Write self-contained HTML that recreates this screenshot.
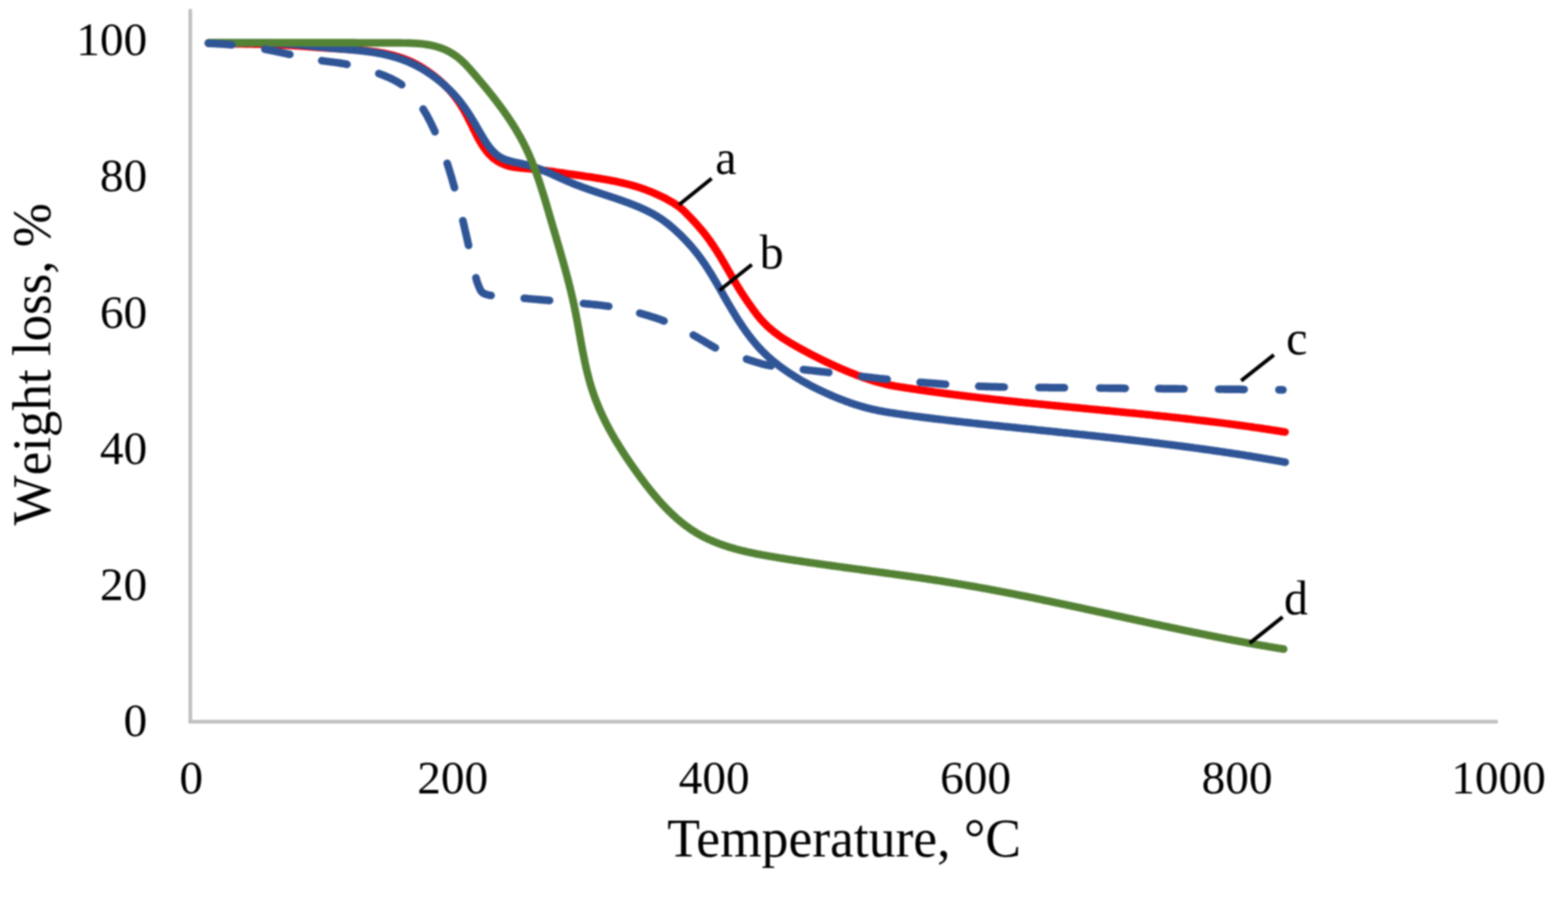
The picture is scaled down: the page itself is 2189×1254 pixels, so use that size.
<!DOCTYPE html>
<html><head><meta charset="utf-8"><title>Weight loss vs Temperature</title>
<style>
html,body{margin:0;padding:0;background:#fff;}
body{width:2189px;height:1254px;overflow:hidden;}
svg{display:block;filter:blur(1.1px);}
text{font-family:"Liberation Serif","Times New Roman",serif;fill:#000;font-kerning:none;}
</style></head><body>
<svg width="2189" height="1254" viewBox="0 0 2189 1254">
<rect width="2189" height="1254" fill="#fff"/>
<g stroke="#bfbfbf" stroke-width="5" fill="none">
<line x1="265.7" y1="12.6" x2="265.7" y2="1010.3"/>
<line x1="263.2" y1="1007.8" x2="2091" y2="1007.8"/>
</g>
<g fill="none" stroke-linecap="round" stroke-linejoin="round" stroke-width="10.7">
<path d="M291.0 60.3L293.0 60.3L295.0 60.4L297.0 60.4L299.0 60.5L301.0 60.5L303.0 60.6L305.0 60.6L307.0 60.7L309.0 60.7L311.0 60.8L313.0 60.8L315.0 60.8L317.0 60.9L319.0 60.9L321.0 60.9L323.0 61.0L325.0 61.0L327.0 61.0L329.0 61.1L331.0 61.1L333.0 61.1L335.0 61.2L337.0 61.2L339.0 61.2L341.0 61.3L343.0 61.3L345.0 61.4L347.0 61.4L349.0 61.4L351.0 61.5L353.0 61.5L355.0 61.6L357.0 61.6L359.0 61.6L361.0 61.7L363.0 61.7L365.0 61.8L367.0 61.8L369.0 61.9L371.0 62.0L373.0 62.0L375.0 62.1L377.0 62.2L379.0 62.2L381.0 62.3L383.0 62.4L385.0 62.4L387.0 62.5L389.0 62.6L391.0 62.7L393.0 62.8L395.0 62.9L397.0 63.0L399.0 63.1L401.0 63.2L403.0 63.3L405.0 63.4L407.0 63.5L409.0 63.7L411.0 63.8L413.0 63.9L415.0 64.0L417.0 64.2L419.0 64.3L421.0 64.5L423.0 64.6L424.9 64.7L426.9 64.9L428.9 65.0L430.9 65.2L432.9 65.3L434.9 65.5L436.9 65.6L438.9 65.8L440.9 65.9L442.9 66.1L444.9 66.2L446.9 66.4L448.9 66.5L450.9 66.6L452.9 66.8L454.9 66.9L456.9 67.1L458.9 67.2L460.9 67.3L462.9 67.5L464.9 67.6L466.9 67.7L468.9 67.8L470.9 68.0L472.8 68.1L474.8 68.2L476.8 68.3L478.8 68.5L480.8 68.6L482.8 68.7L484.8 68.8L486.8 69.0L488.8 69.1L490.8 69.2L492.8 69.4L494.8 69.5L496.8 69.7L498.8 69.8L500.8 70.0L502.8 70.2L504.8 70.3L506.8 70.5L508.8 70.7L510.8 70.9L512.7 71.1L514.7 71.4L516.7 71.6L518.7 71.8L520.7 72.1L522.7 72.3L524.6 72.6L526.6 72.9L528.6 73.2L530.6 73.6L532.6 73.9L534.5 74.2L536.5 74.6L538.4 75.0L540.4 75.4L542.4 75.8L544.3 76.3L546.3 76.7L548.2 77.2L550.1 77.7L552.1 78.3L554.0 78.8L555.9 79.4L557.8 80.0L559.7 80.6L561.6 81.3L563.5 81.9L565.4 82.6L567.2 83.4L569.1 84.1L570.9 84.9L572.8 85.7L574.6 86.5L576.4 87.4L578.2 88.3L580.0 89.2L581.7 90.1L583.5 91.1L585.2 92.0L587.0 93.0L588.7 94.1L590.4 95.1L592.1 96.2L593.8 97.3L595.4 98.4L597.1 99.5L598.7 100.6L600.4 101.8L602.0 103.0L603.6 104.2L605.2 105.4L606.7 106.6L608.3 107.9L609.8 109.1L611.4 110.4L612.9 111.7L614.4 113.1L615.9 114.4L617.4 115.7L618.8 117.1L620.3 118.5L621.7 119.9L623.1 121.3L624.5 122.8L625.9 124.2L627.2 125.7L628.6 127.2L629.9 128.7L631.2 130.2L632.5 131.7L633.7 133.3L635.0 134.9L636.2 136.4L637.4 138.1L638.5 139.7L639.7 141.3L640.8 143.0L641.9 144.6L643.0 146.3L644.1 148.0L645.1 149.7L646.2 151.4L647.2 153.2L648.2 154.9L649.1 156.6L650.1 158.4L651.0 160.2L652.0 161.9L652.9 163.7L653.8 165.5L654.7 167.3L655.6 169.0L656.5 170.8L657.4 172.6L658.3 174.4L659.2 176.2L660.1 178.0L660.9 179.8L661.8 181.6L662.7 183.4L663.6 185.2L664.5 187.0L665.4 188.8L666.3 190.5L667.2 192.3L668.2 194.1L669.2 195.8L670.2 197.6L671.2 199.3L672.2 201.0L673.3 202.7L674.4 204.3L675.5 206.0L676.7 207.6L677.9 209.2L679.1 210.8L680.4 212.4L681.7 213.9L683.0 215.4L684.4 216.8L685.8 218.2L687.3 219.6L688.8 220.9L690.4 222.1L692.0 223.3L693.6 224.4L695.3 225.5L697.1 226.5L698.8 227.4L700.6 228.3L702.5 229.1L704.3 229.9L706.2 230.6L708.1 231.2L710.0 231.8L711.9 232.3L713.9 232.7L715.8 233.1L717.8 233.5L719.8 233.8L721.8 234.0L723.8 234.3L725.8 234.5L727.7 234.7L729.7 234.8L731.7 235.0L733.7 235.2L735.7 235.3L737.7 235.5L739.7 235.7L741.7 235.9L743.7 236.1L745.7 236.3L747.7 236.5L749.7 236.7L751.6 237.0L753.6 237.2L755.6 237.5L757.6 237.7L759.6 238.0L761.6 238.2L763.5 238.5L765.5 238.8L767.5 239.0L769.5 239.3L771.5 239.6L773.5 239.9L775.4 240.2L777.4 240.5L779.4 240.7L781.4 241.0L783.4 241.3L785.3 241.6L787.3 241.9L789.3 242.2L791.3 242.5L793.3 242.8L795.2 243.0L797.2 243.3L799.2 243.6L801.2 243.9L803.2 244.2L805.1 244.4L807.1 244.7L809.1 245.0L811.1 245.3L813.1 245.6L815.0 245.9L817.0 246.2L819.0 246.5L821.0 246.7L823.0 247.0L824.9 247.3L826.9 247.6L828.9 248.0L830.9 248.3L832.8 248.6L834.8 248.9L836.8 249.2L838.8 249.5L840.7 249.9L842.7 250.2L844.7 250.5L846.7 250.9L848.6 251.2L850.6 251.6L852.6 252.0L854.5 252.4L856.5 252.7L858.4 253.1L860.4 253.5L862.4 253.9L864.3 254.4L866.3 254.8L868.2 255.2L870.2 255.7L872.1 256.2L874.1 256.6L876.0 257.1L877.9 257.6L879.9 258.1L881.8 258.7L883.7 259.2L885.6 259.8L887.6 260.3L889.5 260.9L891.4 261.5L893.3 262.1L895.2 262.8L897.1 263.4L899.0 264.1L900.8 264.8L902.7 265.5L904.6 266.2L906.5 266.9L908.3 267.6L910.2 268.4L912.0 269.2L913.9 270.0L915.7 270.8L917.5 271.6L919.3 272.4L921.1 273.3L922.9 274.1L924.7 275.0L926.5 275.9L928.3 276.8L930.1 277.8L931.8 278.7L933.6 279.7L935.3 280.7L937.1 281.7L938.8 282.7L940.5 283.7L942.2 284.8L943.9 285.9L945.5 287.0L947.2 288.2L948.8 289.4L950.3 290.6L951.8 291.9L953.3 293.2L954.8 294.6L956.2 296.0L957.6 297.4L959.0 298.8L960.4 300.3L961.8 301.7L963.2 303.2L964.6 304.6L966.0 306.1L967.3 307.5L968.7 309.0L970.1 310.4L971.4 311.9L972.8 313.4L974.1 314.9L975.4 316.4L976.7 317.9L978.0 319.4L979.3 321.0L980.6 322.5L981.8 324.1L983.1 325.6L984.3 327.2L985.5 328.8L986.7 330.4L987.9 332.0L989.1 333.6L990.3 335.2L991.5 336.9L992.6 338.5L993.7 340.1L994.9 341.8L996.0 343.4L997.1 345.1L998.2 346.8L999.3 348.5L1000.4 350.1L1001.5 351.8L1002.5 353.5L1003.6 355.2L1004.6 356.9L1005.7 358.6L1006.7 360.3L1007.7 362.1L1008.7 363.8L1009.8 365.5L1010.8 367.2L1011.8 369.0L1012.8 370.7L1013.8 372.4L1014.8 374.2L1015.8 375.9L1016.8 377.6L1017.8 379.4L1018.8 381.1L1019.8 382.8L1020.8 384.6L1021.8 386.3L1022.8 388.0L1023.8 389.8L1024.8 391.5L1025.8 393.2L1026.8 394.9L1027.8 396.7L1028.9 398.4L1029.9 400.1L1030.9 401.8L1032.0 403.5L1033.0 405.2L1034.1 406.9L1035.2 408.6L1036.3 410.3L1037.4 411.9L1038.5 413.6L1039.6 415.3L1040.7 416.9L1041.8 418.6L1042.9 420.2L1044.1 421.9L1045.2 423.5L1046.4 425.2L1047.5 426.8L1048.7 428.4L1049.9 430.0L1051.0 431.7L1052.2 433.3L1053.4 434.9L1054.6 436.5L1055.8 438.1L1057.0 439.7L1058.3 441.2L1059.5 442.8L1060.8 444.3L1062.1 445.9L1063.4 447.4L1064.8 448.8L1066.1 450.3L1067.5 451.7L1069.0 453.1L1070.4 454.5L1071.8 455.9L1073.3 457.3L1074.8 458.6L1076.3 459.9L1077.9 461.2L1079.4 462.4L1081.0 463.7L1082.6 464.9L1084.2 466.1L1085.8 467.3L1087.4 468.5L1089.0 469.6L1090.7 470.8L1092.3 471.9L1094.0 473.0L1095.7 474.1L1097.4 475.1L1099.1 476.2L1100.8 477.2L1102.5 478.3L1104.2 479.3L1105.9 480.3L1107.7 481.3L1109.4 482.3L1111.1 483.3L1112.9 484.3L1114.6 485.3L1116.4 486.3L1118.1 487.2L1119.9 488.2L1121.6 489.1L1123.4 490.1L1125.2 491.0L1126.9 492.0L1128.7 492.9L1130.5 493.8L1132.2 494.8L1134.0 495.7L1135.8 496.6L1137.6 497.5L1139.4 498.4L1141.1 499.3L1142.9 500.2L1144.7 501.1L1146.5 502.0L1148.3 502.9L1150.1 503.7L1151.9 504.6L1153.7 505.5L1155.5 506.3L1157.3 507.2L1159.2 508.0L1161.0 508.9L1162.8 509.7L1164.6 510.5L1166.4 511.4L1168.2 512.2L1170.1 513.0L1171.9 513.8L1173.7 514.6L1175.6 515.4L1177.4 516.2L1179.2 517.0L1181.1 517.8L1182.9 518.6L1184.8 519.3L1186.6 520.1L1188.5 520.8L1190.4 521.6L1192.2 522.3L1194.1 523.0L1195.9 523.7L1197.8 524.4L1199.7 525.1L1201.6 525.8L1203.4 526.5L1205.3 527.2L1207.2 527.8L1209.1 528.5L1211.0 529.1L1212.9 529.8L1214.8 530.4L1216.7 531.0L1218.6 531.6L1220.5 532.2L1222.5 532.8L1224.4 533.3L1226.3 533.9L1228.2 534.4L1230.2 534.9L1232.1 535.4L1234.0 535.9L1236.0 536.4L1237.9 536.8L1239.9 537.3L1241.8 537.7L1243.8 538.1L1245.8 538.4L1247.7 538.8L1249.7 539.2L1251.7 539.5L1253.6 539.8L1255.6 540.2L1257.6 540.5L1259.6 540.8L1261.5 541.1L1263.5 541.4L1265.5 541.7L1267.5 542.0L1269.5 542.3L1271.4 542.6L1273.4 542.9L1275.4 543.2L1277.4 543.5L1279.4 543.8L1281.3 544.1L1283.3 544.4L1285.3 544.7L1287.3 545.0L1289.2 545.2L1291.2 545.5L1293.2 545.8L1295.2 546.1L1297.2 546.4L1299.2 546.6L1301.1 546.9L1303.1 547.2L1305.1 547.5L1307.1 547.7L1309.1 548.0L1311.0 548.3L1313.0 548.5L1315.0 548.8L1317.0 549.1L1319.0 549.3L1321.0 549.6L1322.9 549.9L1324.9 550.1L1326.9 550.4L1328.9 550.6L1330.9 550.9L1332.9 551.1L1334.9 551.4L1336.8 551.6L1338.8 551.9L1340.8 552.1L1342.8 552.4L1344.8 552.6L1346.8 552.9L1348.8 553.1L1350.7 553.4L1352.7 553.6L1354.7 553.8L1356.7 554.1L1358.7 554.3L1360.7 554.5L1362.7 554.8L1364.6 555.0L1366.6 555.2L1368.6 555.5L1370.6 555.7L1372.6 555.9L1374.6 556.2L1376.6 556.4L1378.6 556.6L1380.5 556.8L1382.5 557.1L1384.5 557.3L1386.5 557.5L1388.5 557.7L1390.5 558.0L1392.5 558.2L1394.5 558.4L1396.4 558.6L1398.4 558.8L1400.4 559.0L1402.4 559.3L1404.4 559.5L1406.4 559.7L1408.4 559.9L1410.4 560.1L1412.4 560.3L1414.4 560.5L1416.3 560.7L1418.3 560.9L1420.3 561.2L1422.3 561.4L1424.3 561.6L1426.3 561.8L1428.3 562.0L1430.3 562.2L1432.3 562.4L1434.3 562.6L1436.2 562.8L1438.2 563.0L1440.2 563.2L1442.2 563.4L1444.2 563.6L1446.2 563.8L1448.2 564.0L1450.2 564.2L1452.2 564.4L1454.2 564.6L1456.1 564.8L1458.1 565.0L1460.1 565.2L1462.1 565.4L1464.1 565.6L1466.1 565.8L1468.1 566.0L1470.1 566.2L1472.1 566.4L1474.1 566.6L1476.1 566.8L1478.0 566.9L1480.0 567.1L1482.0 567.3L1484.0 567.5L1486.0 567.7L1488.0 567.9L1490.0 568.1L1492.0 568.3L1494.0 568.5L1496.0 568.7L1498.0 568.9L1500.0 569.1L1501.9 569.3L1503.9 569.4L1505.9 569.6L1507.9 569.8L1509.9 570.0L1511.9 570.2L1513.9 570.4L1515.9 570.6L1517.9 570.8L1519.9 571.0L1521.9 571.2L1523.9 571.4L1525.8 571.5L1527.8 571.7L1529.8 571.9L1531.8 572.1L1533.8 572.3L1535.8 572.5L1537.8 572.7L1539.8 572.9L1541.8 573.1L1543.8 573.3L1545.8 573.4L1547.8 573.6L1549.7 573.8L1551.7 574.0L1553.7 574.2L1555.7 574.4L1557.7 574.6L1559.7 574.8L1561.7 575.0L1563.7 575.2L1565.7 575.4L1567.7 575.6L1569.7 575.8L1571.6 576.0L1573.6 576.2L1575.6 576.4L1577.6 576.5L1579.6 576.7L1581.6 576.9L1583.6 577.1L1585.6 577.3L1587.6 577.5L1589.6 577.7L1591.6 577.9L1593.5 578.1L1595.5 578.3L1597.5 578.5L1599.5 578.7L1601.5 578.9L1603.5 579.1L1605.5 579.3L1607.5 579.5L1609.5 579.7L1611.5 580.0L1613.5 580.2L1615.4 580.4L1617.4 580.6L1619.4 580.8L1621.4 581.0L1623.4 581.2L1625.4 581.4L1627.4 581.6L1629.4 581.8L1631.4 582.0L1633.3 582.2L1635.3 582.5L1637.3 582.7L1639.3 582.9L1641.3 583.1L1643.3 583.3L1645.3 583.5L1647.3 583.8L1649.3 584.0L1651.2 584.2L1653.2 584.4L1655.2 584.6L1657.2 584.9L1659.2 585.1L1661.2 585.3L1663.2 585.5L1665.2 585.8L1667.2 586.0L1669.1 586.2L1671.1 586.5L1673.1 586.7L1675.1 586.9L1677.1 587.2L1679.1 587.4L1681.1 587.6L1683.0 587.9L1685.0 588.1L1687.0 588.3L1689.0 588.6L1691.0 588.8L1693.0 589.1L1695.0 589.3L1696.9 589.5L1698.9 589.8L1700.9 590.0L1702.9 590.3L1704.9 590.5L1706.9 590.8L1708.9 591.0L1710.8 591.3L1712.8 591.5L1714.8 591.8L1716.8 592.1L1718.8 592.3L1720.8 592.6L1722.7 592.8L1724.7 593.1L1726.7 593.4L1728.7 593.6L1730.7 593.9L1732.7 594.2L1734.6 594.4L1736.6 594.7L1738.6 595.0L1740.6 595.3L1742.6 595.5L1744.6 595.8L1746.5 596.1L1748.5 596.4L1750.5 596.7L1752.5 597.0L1754.5 597.2L1756.4 597.5L1758.4 597.8L1760.4 598.1L1762.4 598.4L1764.4 598.7L1766.3 599.0L1768.3 599.3L1770.3 599.6L1772.3 599.9L1774.2 600.2L1776.2 600.5L1778.2 600.8L1780.2 601.1L1782.1 601.4L1784.1 601.7L1786.1 602.0L1788.1 602.4L1790.1 602.7L1792.0 603.0L1794.0 603.3" stroke="#ff0000"/>
<path d="M291.0 60.0L293.0 60.0L295.0 60.1L297.0 60.1L299.0 60.1L301.0 60.1L303.0 60.1L305.0 60.1L307.0 60.2L309.0 60.2L311.0 60.2L313.0 60.2L315.0 60.2L317.0 60.1L319.0 60.1L321.0 60.1L323.0 60.1L325.0 60.1L327.0 60.1L329.0 60.1L331.0 60.1L333.0 60.1L335.0 60.0L337.0 60.0L339.0 60.0L341.0 60.0L343.0 60.0L345.0 60.0L347.0 60.0L349.0 60.0L351.0 60.0L353.0 60.0L355.0 60.0L357.0 60.0L359.0 60.0L361.0 60.0L363.0 60.0L365.0 60.0L367.0 60.0L369.0 60.1L371.0 60.1L373.0 60.1L375.0 60.2L377.0 60.2L379.0 60.3L381.0 60.3L383.0 60.4L385.0 60.5L387.0 60.5L389.0 60.6L391.0 60.7L393.0 60.8L395.0 60.9L397.0 61.0L399.0 61.1L401.0 61.3L403.0 61.4L405.0 61.5L407.0 61.7L409.0 61.9L411.0 62.0L413.0 62.2L415.0 62.4L417.0 62.5L418.9 62.7L420.9 62.9L422.9 63.1L424.9 63.3L426.9 63.5L428.9 63.7L430.9 63.9L432.9 64.2L434.9 64.4L436.9 64.6L438.9 64.8L440.8 65.0L442.8 65.2L444.8 65.4L446.8 65.6L448.8 65.8L450.8 66.0L452.8 66.2L454.8 66.4L456.8 66.6L458.8 66.8L460.7 67.0L462.7 67.2L464.7 67.4L466.7 67.5L468.7 67.7L470.7 67.9L472.7 68.0L474.7 68.2L476.7 68.4L478.7 68.5L480.7 68.7L482.7 68.8L484.7 69.0L486.7 69.2L488.7 69.4L490.6 69.5L492.6 69.7L494.6 69.9L496.6 70.1L498.6 70.3L500.6 70.5L502.6 70.7L504.6 70.9L506.6 71.1L508.6 71.4L510.5 71.6L512.5 71.9L514.5 72.2L516.5 72.4L518.5 72.7L520.4 73.0L522.4 73.3L524.4 73.7L526.4 74.0L528.3 74.4L530.3 74.7L532.3 75.1L534.2 75.5L536.2 75.9L538.1 76.4L540.1 76.8L542.0 77.3L544.0 77.8L545.9 78.3L547.8 78.8L549.8 79.3L551.7 79.9L553.6 80.5L555.5 81.1L557.4 81.7L559.3 82.3L561.2 83.0L563.1 83.7L564.9 84.4L566.8 85.1L568.7 85.9L570.5 86.7L572.3 87.5L574.2 88.3L576.0 89.1L577.8 90.0L579.6 90.9L581.4 91.8L583.1 92.7L584.9 93.7L586.6 94.6L588.4 95.6L590.1 96.6L591.8 97.7L593.5 98.7L595.2 99.8L596.9 100.9L598.6 102.0L600.2 103.1L601.9 104.2L603.5 105.4L605.1 106.6L606.7 107.7L608.3 108.9L609.9 110.2L611.5 111.4L613.1 112.6L614.6 113.9L616.2 115.2L617.7 116.5L619.2 117.8L620.7 119.1L622.2 120.4L623.7 121.8L625.1 123.2L626.6 124.5L628.0 125.9L629.4 127.4L630.8 128.8L632.2 130.2L633.6 131.7L634.9 133.2L636.2 134.6L637.6 136.1L638.9 137.7L640.2 139.2L641.4 140.7L642.7 142.3L643.9 143.9L645.1 145.5L646.3 147.1L647.5 148.7L648.7 150.3L649.8 152.0L651.0 153.6L652.1 155.3L653.2 156.9L654.3 158.6L655.4 160.3L656.4 162.0L657.5 163.7L658.5 165.4L659.6 167.1L660.6 168.8L661.7 170.5L662.7 172.2L663.7 173.9L664.7 175.7L665.7 177.4L666.7 179.1L667.7 180.9L668.7 182.6L669.7 184.3L670.7 186.0L671.7 187.8L672.8 189.5L673.8 191.2L674.8 192.9L675.8 194.6L676.9 196.3L678.0 198.0L679.1 199.7L680.2 201.3L681.4 203.0L682.6 204.6L683.8 206.2L685.0 207.7L686.3 209.2L687.7 210.7L689.1 212.2L690.5 213.6L692.0 214.9L693.6 216.2L695.1 217.4L696.8 218.5L698.5 219.6L700.2 220.5L702.0 221.4L703.9 222.2L705.7 223.0L707.6 223.6L709.5 224.2L711.4 224.8L713.4 225.3L715.3 225.8L717.3 226.2L719.2 226.7L721.2 227.1L723.1 227.5L725.1 227.9L727.0 228.3L729.0 228.8L730.9 229.2L732.9 229.7L734.8 230.2L736.8 230.7L738.7 231.3L740.6 231.8L742.5 232.4L744.4 233.0L746.3 233.6L748.2 234.3L750.1 234.9L752.0 235.6L753.9 236.3L755.7 237.0L757.6 237.8L759.4 238.5L761.3 239.3L763.1 240.1L765.0 240.8L766.8 241.6L768.7 242.4L770.5 243.2L772.3 244.1L774.1 244.9L776.0 245.7L777.8 246.5L779.6 247.3L781.4 248.2L783.3 249.0L785.1 249.8L786.9 250.6L788.7 251.4L790.6 252.2L792.4 253.0L794.2 253.8L796.1 254.6L797.9 255.4L799.8 256.2L801.6 256.9L803.5 257.7L805.3 258.4L807.2 259.1L809.1 259.8L811.0 260.5L812.8 261.2L814.7 261.9L816.6 262.6L818.5 263.3L820.4 263.9L822.2 264.6L824.1 265.2L826.0 265.9L827.9 266.5L829.8 267.2L831.7 267.8L833.6 268.5L835.5 269.1L837.4 269.7L839.3 270.4L841.2 271.0L843.1 271.6L845.0 272.2L846.9 272.9L848.8 273.5L850.7 274.1L852.6 274.7L854.5 275.4L856.4 276.0L858.3 276.6L860.2 277.3L862.1 277.9L864.0 278.6L865.9 279.2L867.8 279.9L869.7 280.5L871.5 281.2L873.4 281.9L875.3 282.6L877.2 283.3L879.0 284.0L880.9 284.7L882.8 285.4L884.6 286.2L886.5 286.9L888.3 287.7L890.2 288.4L892.0 289.2L893.9 290.0L895.7 290.8L897.5 291.6L899.3 292.5L901.1 293.3L902.9 294.2L904.7 295.1L906.5 296.0L908.3 296.9L910.1 297.9L911.8 298.8L913.6 299.8L915.3 300.8L917.0 301.8L918.7 302.9L920.4 304.0L922.1 305.1L923.7 306.2L925.4 307.3L927.0 308.5L928.6 309.7L930.2 310.9L931.8 312.1L933.3 313.4L934.9 314.6L936.4 315.9L937.9 317.2L939.5 318.5L941.0 319.8L942.5 321.2L943.9 322.5L945.4 323.9L946.9 325.2L948.3 326.6L949.8 328.0L951.2 329.4L952.6 330.8L954.0 332.2L955.4 333.7L956.8 335.1L958.2 336.6L959.5 338.0L960.9 339.5L962.2 341.0L963.6 342.5L964.9 344.0L966.2 345.5L967.5 347.0L968.8 348.6L970.0 350.1L971.3 351.7L972.5 353.2L973.8 354.8L975.0 356.4L976.2 358.0L977.4 359.6L978.6 361.2L979.7 362.8L980.9 364.5L982.0 366.1L983.2 367.7L984.3 369.4L985.4 371.1L986.5 372.7L987.6 374.4L988.7 376.1L989.7 377.8L990.8 379.5L991.9 381.2L992.9 382.9L994.0 384.6L995.0 386.3L996.0 388.0L997.0 389.7L998.1 391.5L999.1 393.2L1000.1 394.9L1001.1 396.7L1002.1 398.4L1003.1 400.1L1004.1 401.9L1005.1 403.6L1006.1 405.3L1007.1 407.1L1008.1 408.8L1009.1 410.5L1010.0 412.3L1011.0 414.0L1012.0 415.7L1013.0 417.5L1014.0 419.2L1015.0 420.9L1016.0 422.7L1017.0 424.4L1018.0 426.1L1019.1 427.9L1020.1 429.6L1021.1 431.3L1022.1 433.0L1023.1 434.7L1024.2 436.4L1025.2 438.2L1026.3 439.9L1027.3 441.6L1028.4 443.3L1029.4 445.0L1030.5 446.6L1031.6 448.3L1032.7 450.0L1033.8 451.7L1034.9 453.4L1036.0 455.0L1037.1 456.7L1038.2 458.3L1039.4 460.0L1040.5 461.6L1041.7 463.2L1042.9 464.8L1044.1 466.5L1045.3 468.1L1046.5 469.7L1047.7 471.2L1048.9 472.8L1050.2 474.4L1051.4 475.9L1052.7 477.5L1054.0 479.0L1055.3 480.5L1056.6 482.1L1057.9 483.6L1059.2 485.0L1060.6 486.5L1062.0 488.0L1063.3 489.4L1064.7 490.8L1066.2 492.3L1067.6 493.7L1069.0 495.0L1070.5 496.4L1072.0 497.8L1073.4 499.1L1074.9 500.4L1076.5 501.8L1078.0 503.1L1079.5 504.3L1081.1 505.6L1082.6 506.9L1084.2 508.1L1085.8 509.3L1087.3 510.6L1088.9 511.8L1090.5 513.0L1092.2 514.1L1093.8 515.3L1095.4 516.5L1097.1 517.6L1098.7 518.7L1100.4 519.9L1102.0 521.0L1103.7 522.1L1105.4 523.2L1107.1 524.2L1108.8 525.3L1110.5 526.4L1112.2 527.4L1113.9 528.4L1115.6 529.5L1117.3 530.5L1119.0 531.5L1120.8 532.5L1122.5 533.5L1124.3 534.4L1126.0 535.4L1127.8 536.3L1129.5 537.3L1131.3 538.2L1133.1 539.2L1134.9 540.1L1136.7 541.0L1138.4 541.9L1140.2 542.8L1142.0 543.7L1143.8 544.5L1145.6 545.4L1147.4 546.2L1149.2 547.1L1151.1 547.9L1152.9 548.8L1154.7 549.6L1156.5 550.4L1158.4 551.2L1160.2 552.0L1162.0 552.8L1163.9 553.6L1165.7 554.4L1167.6 555.1L1169.4 555.9L1171.3 556.6L1173.1 557.4L1175.0 558.1L1176.9 558.8L1178.7 559.5L1180.6 560.2L1182.5 560.9L1184.4 561.6L1186.3 562.3L1188.1 562.9L1190.0 563.6L1191.9 564.2L1193.8 564.8L1195.7 565.4L1197.7 566.0L1199.6 566.6L1201.5 567.2L1203.4 567.7L1205.3 568.3L1207.3 568.8L1209.2 569.3L1211.1 569.8L1213.1 570.3L1215.0 570.8L1217.0 571.3L1218.9 571.7L1220.9 572.1L1222.8 572.6L1224.8 573.0L1226.7 573.4L1228.7 573.8L1230.7 574.1L1232.6 574.5L1234.6 574.9L1236.6 575.2L1238.5 575.5L1240.5 575.9L1242.5 576.2L1244.5 576.5L1246.4 576.8L1248.4 577.1L1250.4 577.4L1252.4 577.7L1254.4 578.0L1256.3 578.3L1258.3 578.6L1260.3 578.9L1262.3 579.2L1264.3 579.4L1266.2 579.7L1268.2 580.0L1270.2 580.3L1272.2 580.5L1274.2 580.8L1276.1 581.1L1278.1 581.3L1280.1 581.6L1282.1 581.8L1284.1 582.1L1286.1 582.4L1288.1 582.6L1290.0 582.9L1292.0 583.1L1294.0 583.4L1296.0 583.6L1298.0 583.9L1300.0 584.1L1301.9 584.4L1303.9 584.6L1305.9 584.9L1307.9 585.1L1309.9 585.3L1311.9 585.6L1313.9 585.8L1315.8 586.0L1317.8 586.3L1319.8 586.5L1321.8 586.7L1323.8 587.0L1325.8 587.2L1327.8 587.4L1329.8 587.7L1331.7 587.9L1333.7 588.1L1335.7 588.4L1337.7 588.6L1339.7 588.8L1341.7 589.0L1343.7 589.2L1345.7 589.5L1347.6 589.7L1349.6 589.9L1351.6 590.1L1353.6 590.3L1355.6 590.6L1357.6 590.8L1359.6 591.0L1361.6 591.2L1363.6 591.4L1365.5 591.7L1367.5 591.9L1369.5 592.1L1371.5 592.3L1373.5 592.5L1375.5 592.7L1377.5 592.9L1379.5 593.2L1381.5 593.4L1383.4 593.6L1385.4 593.8L1387.4 594.0L1389.4 594.2L1391.4 594.4L1393.4 594.6L1395.4 594.8L1397.4 595.1L1399.4 595.3L1401.4 595.5L1403.3 595.7L1405.3 595.9L1407.3 596.1L1409.3 596.3L1411.3 596.5L1413.3 596.7L1415.3 596.9L1417.3 597.1L1419.3 597.4L1421.3 597.6L1423.2 597.8L1425.2 598.0L1427.2 598.2L1429.2 598.4L1431.2 598.6L1433.2 598.8L1435.2 599.0L1437.2 599.2L1439.2 599.4L1441.2 599.6L1443.1 599.8L1445.1 600.0L1447.1 600.3L1449.1 600.5L1451.1 600.7L1453.1 600.9L1455.1 601.1L1457.1 601.3L1459.1 601.5L1461.0 601.7L1463.0 601.9L1465.0 602.1L1467.0 602.3L1469.0 602.5L1471.0 602.7L1473.0 602.9L1475.0 603.1L1477.0 603.4L1479.0 603.6L1480.9 603.8L1482.9 604.0L1484.9 604.2L1486.9 604.4L1488.9 604.6L1490.9 604.8L1492.9 605.0L1494.9 605.2L1496.9 605.4L1498.9 605.7L1500.8 605.9L1502.8 606.1L1504.8 606.3L1506.8 606.5L1508.8 606.7L1510.8 606.9L1512.8 607.1L1514.8 607.3L1516.8 607.6L1518.7 607.8L1520.7 608.0L1522.7 608.2L1524.7 608.4L1526.7 608.6L1528.7 608.8L1530.7 609.1L1532.7 609.3L1534.7 609.5L1536.6 609.7L1538.6 609.9L1540.6 610.1L1542.6 610.4L1544.6 610.6L1546.6 610.8L1548.6 611.0L1550.6 611.2L1552.6 611.4L1554.5 611.7L1556.5 611.9L1558.5 612.1L1560.5 612.3L1562.5 612.6L1564.5 612.8L1566.5 613.0L1568.5 613.2L1570.5 613.5L1572.4 613.7L1574.4 613.9L1576.4 614.1L1578.4 614.4L1580.4 614.6L1582.4 614.8L1584.4 615.1L1586.4 615.3L1588.3 615.5L1590.3 615.7L1592.3 616.0L1594.3 616.2L1596.3 616.4L1598.3 616.7L1600.3 616.9L1602.2 617.2L1604.2 617.4L1606.2 617.6L1608.2 617.9L1610.2 618.1L1612.2 618.4L1614.2 618.6L1616.1 618.8L1618.1 619.1L1620.1 619.3L1622.1 619.6L1624.1 619.8L1626.1 620.1L1628.1 620.3L1630.0 620.6L1632.0 620.8L1634.0 621.1L1636.0 621.3L1638.0 621.6L1640.0 621.8L1642.0 622.1L1643.9 622.3L1645.9 622.6L1647.9 622.8L1649.9 623.1L1651.9 623.4L1653.9 623.6L1655.8 623.9L1657.8 624.1L1659.8 624.4L1661.8 624.7L1663.8 624.9L1665.8 625.2L1667.7 625.5L1669.7 625.7L1671.7 626.0L1673.7 626.3L1675.7 626.6L1677.6 626.8L1679.6 627.1L1681.6 627.4L1683.6 627.7L1685.6 627.9L1687.6 628.2L1689.5 628.5L1691.5 628.8L1693.5 629.1L1695.5 629.4L1697.5 629.6L1699.4 629.9L1701.4 630.2L1703.4 630.5L1705.4 630.8L1707.4 631.1L1709.3 631.4L1711.3 631.7L1713.3 632.0L1715.3 632.3L1717.2 632.6L1719.2 632.9L1721.2 633.2L1723.2 633.5L1725.2 633.8L1727.1 634.1L1729.1 634.4L1731.1 634.7L1733.1 635.0L1735.0 635.3L1737.0 635.6L1739.0 636.0L1741.0 636.3L1742.9 636.6L1744.9 636.9L1746.9 637.2L1748.9 637.6L1750.8 637.9L1752.8 638.2L1754.8 638.5L1756.8 638.9L1758.7 639.2L1760.7 639.5L1762.7 639.9L1764.7 640.2L1766.6 640.5L1768.6 640.9L1770.6 641.2L1772.5 641.6L1774.5 641.9L1776.5 642.2L1778.5 642.6L1780.4 642.9L1782.4 643.3L1784.4 643.6L1786.3 644.0L1788.3 644.3L1790.3 644.7L1792.2 645.1L1794.2 645.4" stroke="#2f5597"/>
<path d="M291.0 59.7L293.0 59.7L295.0 59.7L297.0 59.7L299.0 59.7L301.0 59.7L303.0 59.7L305.0 59.7L307.0 59.7L309.0 59.7L311.0 59.7L313.0 59.7L315.0 59.7L317.0 59.7L319.0 59.7L321.0 59.7L323.0 59.7L325.0 59.7L327.0 59.7L329.0 59.7L331.0 59.7L333.0 59.7L335.0 59.7L337.0 59.7L339.0 59.7L341.0 59.7L343.0 59.7L345.0 59.7L347.0 59.7L349.0 59.7L351.0 59.7L353.0 59.7L355.0 59.7L357.0 59.7L359.0 59.7L361.0 59.6L363.0 59.6L365.0 59.6L367.0 59.6L369.0 59.6L371.0 59.6L373.0 59.6L375.0 59.6L377.0 59.6L379.0 59.6L381.0 59.6L383.0 59.6L385.0 59.6L387.0 59.6L389.0 59.6L391.1 59.6L393.1 59.6L395.1 59.6L397.1 59.6L399.1 59.6L401.1 59.6L403.1 59.6L405.1 59.6L407.1 59.6L409.1 59.6L411.1 59.6L413.1 59.6L415.1 59.6L417.1 59.6L419.1 59.6L421.1 59.6L423.1 59.6L425.1 59.6L427.1 59.6L429.1 59.6L431.1 59.6L433.1 59.6L435.1 59.6L437.1 59.6L439.1 59.6L441.1 59.6L443.1 59.6L445.1 59.6L447.1 59.6L449.1 59.7L451.1 59.7L453.1 59.7L455.1 59.7L457.1 59.7L459.1 59.7L461.1 59.7L463.1 59.7L465.1 59.7L467.1 59.7L469.1 59.7L471.1 59.7L473.1 59.7L475.1 59.7L477.1 59.7L479.1 59.7L481.1 59.7L483.1 59.7L485.1 59.7L487.1 59.7L489.1 59.7L491.1 59.7L493.1 59.7L495.1 59.7L497.1 59.8L499.1 59.8L501.1 59.8L503.1 59.8L505.1 59.8L507.1 59.8L509.1 59.8L511.1 59.8L513.1 59.8L515.1 59.8L517.1 59.8L519.1 59.8L521.1 59.8L523.1 59.8L525.1 59.8L527.1 59.8L529.1 59.8L531.1 59.8L533.1 59.9L535.1 59.9L537.1 59.9L539.1 59.9L541.1 59.9L543.1 59.9L545.1 59.9L547.1 59.9L549.1 59.9L551.1 59.9L553.1 59.9L555.1 59.9L557.1 59.9L559.1 59.9L561.1 60.0L563.1 60.0L565.1 60.0L567.1 60.0L569.1 60.1L571.1 60.1L573.1 60.2L575.1 60.3L577.1 60.4L579.1 60.5L581.1 60.6L583.1 60.8L585.1 60.9L587.1 61.1L589.1 61.3L591.1 61.5L593.0 61.8L595.0 62.1L597.0 62.4L599.0 62.7L600.9 63.1L602.9 63.5L604.9 63.9L606.8 64.4L608.7 64.9L610.7 65.5L612.6 66.1L614.5 66.7L616.3 67.4L618.2 68.1L620.1 68.9L621.9 69.7L623.7 70.5L625.5 71.4L627.3 72.4L629.0 73.3L630.7 74.4L632.4 75.4L634.1 76.5L635.7 77.6L637.4 78.8L639.0 80.0L640.5 81.3L642.1 82.5L643.6 83.9L645.1 85.2L646.5 86.6L648.0 88.0L649.4 89.4L650.8 90.8L652.1 92.3L653.5 93.7L654.8 95.2L656.2 96.7L657.5 98.2L658.8 99.7L660.1 101.2L661.4 102.8L662.7 104.3L664.0 105.8L665.3 107.3L666.6 108.8L667.9 110.4L669.2 111.9L670.5 113.4L671.8 115.0L673.1 116.5L674.3 118.0L675.6 119.6L676.9 121.1L678.2 122.7L679.4 124.2L680.7 125.8L682.0 127.3L683.2 128.9L684.5 130.4L685.7 132.0L687.0 133.6L688.2 135.1L689.4 136.7L690.7 138.3L691.9 139.9L693.1 141.5L694.3 143.1L695.5 144.6L696.7 146.2L697.9 147.9L699.1 149.5L700.3 151.1L701.5 152.7L702.6 154.3L703.8 155.9L704.9 157.6L706.1 159.2L707.2 160.9L708.4 162.5L709.5 164.2L710.6 165.8L711.7 167.5L712.8 169.2L713.9 170.8L715.0 172.5L716.1 174.2L717.1 175.9L718.2 177.6L719.3 179.3L720.3 181.0L721.3 182.7L722.3 184.4L723.3 186.2L724.3 187.9L725.3 189.6L726.3 191.4L727.3 193.2L728.2 194.9L729.1 196.7L730.1 198.5L731.0 200.2L731.9 202.0L732.8 203.8L733.7 205.6L734.5 207.4L735.4 209.2L736.2 211.0L737.1 212.9L737.9 214.7L738.7 216.5L739.5 218.3L740.3 220.2L741.0 222.0L741.8 223.9L742.6 225.7L743.3 227.6L744.1 229.4L744.8 231.3L745.5 233.2L746.2 235.0L746.9 236.9L747.6 238.8L748.3 240.7L749.0 242.5L749.7 244.4L750.3 246.3L751.0 248.2L751.6 250.1L752.3 252.0L752.9 253.9L753.6 255.8L754.2 257.7L754.8 259.6L755.4 261.5L756.0 263.4L756.6 265.3L757.2 267.2L757.8 269.1L758.4 271.0L759.0 272.9L759.6 274.9L760.2 276.8L760.8 278.7L761.4 280.6L761.9 282.5L762.5 284.4L763.1 286.3L763.6 288.3L764.2 290.2L764.8 292.1L765.3 294.0L765.9 295.9L766.4 297.9L767.0 299.8L767.6 301.7L768.1 303.6L768.7 305.6L769.2 307.5L769.8 309.4L770.4 311.3L770.9 313.2L771.5 315.2L772.0 317.1L772.6 319.0L773.2 320.9L773.7 322.8L774.3 324.8L774.9 326.7L775.4 328.6L776.0 330.5L776.6 332.4L777.1 334.4L777.7 336.3L778.2 338.2L778.8 340.1L779.4 342.0L779.9 344.0L780.5 345.9L781.1 347.8L781.6 349.7L782.2 351.6L782.7 353.6L783.3 355.5L783.8 357.4L784.4 359.3L784.9 361.3L785.5 363.2L786.0 365.1L786.6 367.0L787.1 369.0L787.6 370.9L788.2 372.8L788.7 374.7L789.2 376.7L789.7 378.6L790.3 380.5L790.8 382.5L791.3 384.4L791.8 386.3L792.3 388.3L792.8 390.2L793.3 392.1L793.8 394.1L794.3 396.0L794.8 398.0L795.3 399.9L795.8 401.8L796.3 403.8L796.7 405.7L797.2 407.7L797.7 409.6L798.1 411.6L798.6 413.5L799.0 415.5L799.5 417.4L799.9 419.4L800.3 421.3L800.8 423.3L801.2 425.2L801.6 427.2L802.0 429.1L802.4 431.1L802.8 433.1L803.2 435.0L803.6 437.0L804.0 439.0L804.4 440.9L804.7 442.9L805.1 444.8L805.5 446.8L805.9 448.8L806.2 450.7L806.6 452.7L806.9 454.7L807.3 456.7L807.7 458.6L808.0 460.6L808.4 462.6L808.7 464.5L809.1 466.5L809.4 468.5L809.8 470.4L810.1 472.4L810.5 474.4L810.8 476.3L811.2 478.3L811.6 480.3L811.9 482.2L812.3 484.2L812.7 486.2L813.0 488.1L813.4 490.1L813.8 492.1L814.2 494.0L814.6 496.0L815.0 498.0L815.4 499.9L815.8 501.9L816.2 503.8L816.6 505.8L817.0 507.7L817.5 509.7L817.9 511.7L818.3 513.6L818.8 515.6L819.2 517.5L819.7 519.4L820.2 521.4L820.7 523.3L821.2 525.3L821.7 527.2L822.2 529.1L822.7 531.1L823.3 533.0L823.8 534.9L824.4 536.8L824.9 538.8L825.5 540.7L826.1 542.6L826.7 544.5L827.4 546.4L828.0 548.3L828.7 550.2L829.3 552.1L830.0 553.9L830.7 555.8L831.4 557.7L832.1 559.6L832.8 561.4L833.6 563.3L834.3 565.1L835.1 567.0L835.8 568.8L836.6 570.7L837.4 572.5L838.2 574.3L839.1 576.2L839.9 578.0L840.7 579.8L841.6 581.6L842.4 583.4L843.3 585.2L844.2 587.0L845.1 588.8L846.0 590.6L846.9 592.4L847.8 594.1L848.8 595.9L849.7 597.7L850.6 599.4L851.6 601.2L852.6 603.0L853.5 604.7L854.5 606.4L855.5 608.2L856.5 609.9L857.5 611.6L858.5 613.4L859.5 615.1L860.6 616.8L861.6 618.5L862.7 620.2L863.7 621.9L864.8 623.6L865.8 625.3L866.9 627.0L868.0 628.7L869.0 630.4L870.1 632.1L871.2 633.7L872.3 635.4L873.4 637.1L874.5 638.8L875.7 640.4L876.8 642.1L877.9 643.7L879.0 645.4L880.2 647.0L881.3 648.7L882.4 650.3L883.6 652.0L884.7 653.6L885.9 655.2L887.1 656.9L888.2 658.5L889.4 660.1L890.6 661.7L891.7 663.3L892.9 665.0L894.1 666.6L895.3 668.2L896.5 669.8L897.7 671.4L898.9 673.0L900.1 674.6L901.3 676.2L902.5 677.8L903.8 679.3L905.0 680.9L906.2 682.5L907.5 684.0L908.7 685.6L910.0 687.2L911.3 688.7L912.5 690.2L913.8 691.8L915.1 693.3L916.4 694.8L917.7 696.3L919.0 697.9L920.4 699.4L921.7 700.8L923.0 702.3L924.4 703.8L925.7 705.3L927.1 706.7L928.5 708.2L929.9 709.6L931.3 711.1L932.7 712.5L934.1 713.9L935.5 715.3L937.0 716.7L938.4 718.1L939.9 719.4L941.3 720.8L942.8 722.1L944.3 723.5L945.8 724.8L947.4 726.1L948.9 727.4L950.4 728.6L952.0 729.9L953.5 731.1L955.1 732.4L956.7 733.6L958.3 734.8L959.9 736.0L961.6 737.1L963.2 738.3L964.8 739.4L966.5 740.5L968.2 741.6L969.9 742.7L971.6 743.7L973.3 744.8L975.0 745.8L976.8 746.7L978.5 747.7L980.3 748.7L982.1 749.6L983.8 750.5L985.6 751.4L987.4 752.2L989.2 753.1L991.1 753.9L992.9 754.7L994.7 755.5L996.6 756.3L998.4 757.1L1000.3 757.8L1002.2 758.5L1004.0 759.2L1005.9 759.9L1007.8 760.6L1009.7 761.3L1011.6 761.9L1013.5 762.5L1015.4 763.2L1017.3 763.8L1019.2 764.3L1021.1 764.9L1023.0 765.5L1025.0 766.0L1026.9 766.6L1028.8 767.1L1030.7 767.6L1032.7 768.1L1034.6 768.6L1036.6 769.1L1038.5 769.5L1040.5 770.0L1042.4 770.4L1044.4 770.9L1046.3 771.3L1048.3 771.7L1050.2 772.2L1052.2 772.6L1054.1 773.0L1056.1 773.4L1058.1 773.8L1060.0 774.1L1062.0 774.5L1064.0 774.9L1065.9 775.2L1067.9 775.6L1069.9 775.9L1071.8 776.3L1073.8 776.6L1075.8 777.0L1077.8 777.3L1079.7 777.6L1081.7 778.0L1083.7 778.3L1085.6 778.6L1087.6 779.0L1089.6 779.3L1091.6 779.6L1093.5 779.9L1095.5 780.2L1097.5 780.5L1099.5 780.9L1101.5 781.2L1103.4 781.5L1105.4 781.8L1107.4 782.1L1109.4 782.4L1111.3 782.7L1113.3 783.0L1115.3 783.3L1117.3 783.6L1119.3 783.9L1121.2 784.2L1123.2 784.5L1125.2 784.8L1127.2 785.1L1129.1 785.4L1131.1 785.7L1133.1 785.9L1135.1 786.2L1137.1 786.5L1139.0 786.8L1141.0 787.1L1143.0 787.4L1145.0 787.7L1147.0 787.9L1148.9 788.2L1150.9 788.5L1152.9 788.8L1154.9 789.1L1156.9 789.3L1158.9 789.6L1160.8 789.9L1162.8 790.2L1164.8 790.4L1166.8 790.7L1168.8 791.0L1170.7 791.3L1172.7 791.5L1174.7 791.8L1176.7 792.1L1178.7 792.4L1180.7 792.6L1182.6 792.9L1184.6 793.2L1186.6 793.4L1188.6 793.7L1190.6 794.0L1192.5 794.2L1194.5 794.5L1196.5 794.8L1198.5 795.0L1200.5 795.3L1202.5 795.6L1204.4 795.9L1206.4 796.1L1208.4 796.4L1210.4 796.7L1212.4 796.9L1214.4 797.2L1216.3 797.5L1218.3 797.7L1220.3 798.0L1222.3 798.3L1224.3 798.5L1226.3 798.8L1228.2 799.1L1230.2 799.3L1232.2 799.6L1234.2 799.9L1236.2 800.1L1238.1 800.4L1240.1 800.7L1242.1 801.0L1244.1 801.2L1246.1 801.5L1248.1 801.8L1250.0 802.1L1252.0 802.3L1254.0 802.6L1256.0 802.9L1258.0 803.2L1259.9 803.4L1261.9 803.7L1263.9 804.0L1265.9 804.3L1267.9 804.6L1269.9 804.8L1271.8 805.1L1273.8 805.4L1275.8 805.7L1277.8 806.0L1279.8 806.3L1281.7 806.5L1283.7 806.8L1285.7 807.1L1287.7 807.4L1289.7 807.7L1291.6 808.0L1293.6 808.3L1295.6 808.6L1297.6 808.9L1299.5 809.2L1301.5 809.5L1303.5 809.8L1305.5 810.1L1307.5 810.4L1309.4 810.7L1311.4 811.0L1313.4 811.3L1315.4 811.6L1317.3 811.9L1319.3 812.3L1321.3 812.6L1323.3 812.9L1325.2 813.2L1327.2 813.5L1329.2 813.9L1331.2 814.2L1333.1 814.5L1335.1 814.8L1337.1 815.2L1339.1 815.5L1341.0 815.8L1343.0 816.2L1345.0 816.5L1347.0 816.8L1348.9 817.2L1350.9 817.5L1352.9 817.9L1354.8 818.2L1356.8 818.6L1358.8 818.9L1360.7 819.2L1362.7 819.6L1364.7 820.0L1366.7 820.3L1368.6 820.7L1370.6 821.0L1372.6 821.4L1374.5 821.7L1376.5 822.1L1378.5 822.5L1380.4 822.8L1382.4 823.2L1384.4 823.6L1386.3 823.9L1388.3 824.3L1390.3 824.7L1392.2 825.0L1394.2 825.4L1396.2 825.8L1398.1 826.2L1400.1 826.5L1402.1 826.9L1404.0 827.3L1406.0 827.7L1407.9 828.1L1409.9 828.4L1411.9 828.8L1413.8 829.2L1415.8 829.6L1417.8 830.0L1419.7 830.4L1421.7 830.8L1423.7 831.2L1425.6 831.6L1427.6 831.9L1429.5 832.3L1431.5 832.7L1433.5 833.1L1435.4 833.5L1437.4 833.9L1439.3 834.3L1441.3 834.7L1443.3 835.1L1445.2 835.5L1447.2 835.9L1449.1 836.3L1451.1 836.7L1453.1 837.1L1455.0 837.6L1457.0 838.0L1458.9 838.4L1460.9 838.8L1462.9 839.2L1464.8 839.6L1466.8 840.0L1468.7 840.4L1470.7 840.8L1472.6 841.2L1474.6 841.7L1476.6 842.1L1478.5 842.5L1480.5 842.9L1482.4 843.3L1484.4 843.7L1486.3 844.1L1488.3 844.6L1490.3 845.0L1492.2 845.4L1494.2 845.8L1496.1 846.2L1498.1 846.7L1500.0 847.1L1502.0 847.5L1503.9 847.9L1505.9 848.3L1507.9 848.8L1509.8 849.2L1511.8 849.6L1513.7 850.0L1515.7 850.5L1517.6 850.9L1519.6 851.3L1521.5 851.7L1523.5 852.2L1525.5 852.6L1527.4 853.0L1529.4 853.4L1531.3 853.9L1533.3 854.3L1535.2 854.7L1537.2 855.1L1539.1 855.6L1541.1 856.0L1543.0 856.4L1545.0 856.8L1547.0 857.3L1548.9 857.7L1550.9 858.1L1552.8 858.6L1554.8 859.0L1556.7 859.4L1558.7 859.8L1560.6 860.3L1562.6 860.7L1564.5 861.1L1566.5 861.5L1568.5 862.0L1570.4 862.4L1572.4 862.8L1574.3 863.3L1576.3 863.7L1578.2 864.1L1580.2 864.5L1582.1 865.0L1584.1 865.4L1586.0 865.8L1588.0 866.2L1590.0 866.7L1591.9 867.1L1593.9 867.5L1595.8 867.9L1597.8 868.4L1599.7 868.8L1601.7 869.2L1603.6 869.6L1605.6 870.1L1607.6 870.5L1609.5 870.9L1611.5 871.3L1613.4 871.8L1615.4 872.2L1617.3 872.6L1619.3 873.0L1621.2 873.4L1623.2 873.9L1625.2 874.3L1627.1 874.7L1629.1 875.1L1631.0 875.5L1633.0 875.9L1634.9 876.4L1636.9 876.8L1638.9 877.2L1640.8 877.6L1642.8 878.0L1644.7 878.4L1646.7 878.8L1648.6 879.3L1650.6 879.7L1652.6 880.1L1654.5 880.5L1656.5 880.9L1658.4 881.3L1660.4 881.7L1662.4 882.1L1664.3 882.5L1666.3 882.9L1668.2 883.3L1670.2 883.7L1672.2 884.1L1674.1 884.5L1676.1 884.9L1678.0 885.3L1680.0 885.7L1682.0 886.1L1683.9 886.5L1685.9 886.9L1687.8 887.3L1689.8 887.7L1691.8 888.1L1693.7 888.5L1695.7 888.9L1697.6 889.3L1699.6 889.7L1701.6 890.1L1703.5 890.5L1705.5 890.8L1707.5 891.2L1709.4 891.6L1711.4 892.0L1713.4 892.4L1715.3 892.8L1717.3 893.1L1719.2 893.5L1721.2 893.9L1723.2 894.3L1725.1 894.6L1727.1 895.0L1729.1 895.4L1731.0 895.7L1733.0 896.1L1735.0 896.5L1736.9 896.8L1738.9 897.2L1740.9 897.6L1742.8 897.9L1744.8 898.3L1746.8 898.6L1748.7 899.0L1750.7 899.4L1752.7 899.7L1754.7 900.1L1756.6 900.4L1758.6 900.8L1760.6 901.1L1762.5 901.5L1764.5 901.8L1766.5 902.1L1768.5 902.5L1770.4 902.8L1772.4 903.2L1774.4 903.5L1776.3 903.8L1778.3 904.2L1780.3 904.5L1782.3 904.8L1784.2 905.2L1786.2 905.5L1788.2 905.8L1790.2 906.1L1792.1 906.4" stroke="#548235"/>
<path d="M291.0 60.5L293.0 60.6L295.0 60.7L297.0 60.8L299.0 60.9L301.0 61.0L303.0 61.1L305.0 61.3L307.0 61.4L309.0 61.5L311.0 61.6L313.0 61.7L315.0 61.9L317.0 62.0L319.0 62.2L321.0 62.3L323.0 62.5L324.9 62.6L326.9 62.8L328.9 63.0L330.9 63.2L332.9 63.4L334.9 63.6L336.9 63.8L338.9 64.0L340.9 64.2L342.9 64.5L344.8 64.7L346.8 65.0L348.8 65.3L350.8 65.6L352.8 65.8L354.7 66.2L356.7 66.5L358.7 66.8L360.7 67.1L362.6 67.5L364.6 67.8L366.6 68.2L368.5 68.5L370.5 68.9L372.5 69.3L374.4 69.6L376.4 70.0L378.4 70.4L380.3 70.8L382.3 71.2L384.2 71.6L386.2 72.0L388.2 72.4L390.1 72.9L392.1 73.3L394.0 73.7L396.0 74.1L397.9 74.6L399.9 75.0L401.9 75.4L403.8 75.8L405.8 76.3L407.7 76.7L409.7 77.1L411.6 77.6L413.6 78.0L415.5 78.4L417.5 78.8L419.4 79.2L421.4 79.7L423.4 80.1L425.3 80.5L427.3 80.9L429.3 81.2L431.2 81.6L433.2 82.0L435.1 82.4L437.1 82.7L439.1 83.1L441.1 83.4L443.0 83.7L445.0 84.1L447.0 84.4L449.0 84.7L450.9 85.0L452.9 85.2L454.9 85.5L456.9 85.7L458.9 86.0L460.9 86.2L462.8 86.5L464.8 86.7L466.8 87.0L468.8 87.2L470.8 87.5L472.8 87.8L474.7 88.1L476.7 88.4L478.7 88.7L480.7 89.1L482.6 89.5L484.6 89.9L486.5 90.4L488.5 90.8L490.4 91.3L492.4 91.8L494.3 92.3L496.2 92.8L498.2 93.3L500.1 93.8L502.0 94.3L504.0 94.9L505.9 95.4L507.8 96.0L509.7 96.5L511.7 97.1L513.6 97.7L515.5 98.2L517.4 98.8L519.3 99.4L521.2 100.1L523.1 100.7L525.0 101.3L526.9 102.0L528.8 102.7L530.7 103.3L532.5 104.1L534.4 104.8L536.2 105.5L538.1 106.3L539.9 107.1L541.8 107.9L543.6 108.7L545.4 109.5L547.2 110.4L549.0 111.3L550.8 112.2L552.6 113.1L554.3 114.1L556.0 115.1L557.7 116.2L559.4 117.3L561.0 118.5L562.5 119.8L563.9 121.2L565.3 122.7L566.6 124.2L567.9 125.7L569.2 127.2L570.5 128.8L571.8 130.3L573.1 131.8L574.5 133.3L575.8 134.7L577.2 136.2L578.6 137.6L579.9 139.1L581.3 140.6L582.6 142.1L584.0 143.6L585.3 145.1L586.5 146.6L587.7 148.2L588.9 149.8L590.1 151.5L591.2 153.1L592.2 154.8L593.3 156.5L594.3 158.3L595.3 160.0L596.3 161.7L597.2 163.5L598.1 165.3L599.1 167.1L600.0 168.8L600.9 170.6L601.8 172.4L602.6 174.2L603.5 176.0L604.4 177.8L605.2 179.6L606.1 181.4L606.9 183.2L607.8 185.1L608.6 186.9L609.4 188.7L610.2 190.5L611.0 192.4L611.8 194.2L612.6 196.1L613.3 197.9L614.1 199.8L614.8 201.6L615.6 203.5L616.3 205.4L617.0 207.2L617.7 209.1L618.4 211.0L619.1 212.9L619.8 214.7L620.4 216.6L621.1 218.5L621.7 220.4L622.4 222.3L623.0 224.2L623.6 226.1L624.3 228.0L624.9 229.9L625.5 231.8L626.1 233.7L626.7 235.6L627.3 237.5L627.9 239.4L628.4 241.4L629.0 243.3L629.6 245.2L630.2 247.1L630.7 249.0L631.3 251.0L631.8 252.9L632.4 254.8L632.9 256.7L633.5 258.7L634.0 260.6L634.6 262.5L635.1 264.4L635.6 266.4L636.1 268.3L636.7 270.2L637.2 272.2L637.7 274.1L638.2 276.0L638.7 278.0L639.2 279.9L639.7 281.8L640.2 283.8L640.7 285.7L641.2 287.7L641.7 289.6L642.1 291.5L642.6 293.5L643.1 295.4L643.6 297.4L644.1 299.3L644.5 301.3L645.0 303.2L645.5 305.1L645.9 307.1L646.4 309.0L646.9 311.0L647.3 312.9L647.8 314.9L648.2 316.8L648.7 318.8L649.1 320.7L649.6 322.7L650.0 324.6L650.5 326.6L650.9 328.5L651.4 330.5L651.8 332.4L652.3 334.4L652.7 336.3L653.1 338.3L653.6 340.2L654.0 342.2L654.5 344.1L654.9 346.1L655.3 348.0L655.8 350.0L656.2 351.9L656.7 353.9L657.1 355.9L657.5 357.8L658.0 359.8L658.4 361.7L658.8 363.7L659.3 365.6L659.7 367.6L660.2 369.5L660.6 371.5L661.0 373.4L661.5 375.4L661.9 377.3L662.4 379.3L662.8 381.2L663.3 383.2L663.7 385.1L664.2 387.1L664.7 389.0L665.2 390.9L665.8 392.8L666.4 394.7L667.1 396.6L667.9 398.5L668.6 400.3L669.4 402.2L670.2 404.0L671.1 405.8L672.3 407.4L673.7 408.8L675.5 409.8L677.3 410.6L679.2 411.2L681.1 411.7L683.1 412.2L685.1 412.5L687.0 412.9L689.0 413.1L691.0 413.3L693.0 413.5L695.0 413.6L697.0 413.7L699.0 413.8L701.0 413.9L703.0 414.1L705.0 414.2L707.0 414.3L709.0 414.5L711.0 414.7L713.0 414.8L715.0 415.0L716.9 415.2L718.9 415.4L720.9 415.6L722.9 415.7L724.9 415.9L726.9 416.1L728.9 416.3L730.9 416.5L732.9 416.6L734.9 416.8L736.9 417.0L738.9 417.2L740.9 417.4L742.9 417.5L744.8 417.7L746.8 417.9L748.8 418.0L750.8 418.2L752.8 418.4L754.8 418.6L756.8 418.7L758.8 418.9L760.8 419.1L762.8 419.2L764.8 419.4L766.8 419.6L768.8 419.7L770.8 419.9L772.8 420.1L774.7 420.2L776.7 420.4L778.7 420.6L780.7 420.7L782.7 420.9L784.7 421.1L786.7 421.3L788.7 421.4L790.7 421.6L792.7 421.8L794.7 422.0L796.7 422.1L798.7 422.3L800.7 422.5L802.7 422.7L804.6 422.9L806.6 423.0L808.6 423.2L810.6 423.4L812.6 423.6L814.6 423.8L816.6 424.0L818.6 424.2L820.6 424.4L822.6 424.6L824.6 424.8L826.6 425.0L828.5 425.2L830.5 425.4L832.5 425.6L834.5 425.8L836.5 426.0L838.5 426.2L840.5 426.5L842.5 426.7L844.4 427.0L846.4 427.2L848.4 427.5L850.4 427.8L852.4 428.1L854.4 428.4L856.3 428.7L858.3 429.1L860.3 429.4L862.2 429.8L864.2 430.2L866.1 430.6L868.1 431.1L870.0 431.5L872.0 432.0L873.9 432.5L875.9 432.9L877.8 433.4L879.8 433.9L881.7 434.4L883.6 434.9L885.6 435.4L887.5 435.9L889.5 436.4L891.4 436.9L893.3 437.4L895.2 437.9L897.2 438.5L899.1 439.0L901.0 439.6L902.9 440.1L904.9 440.7L906.8 441.3L908.7 441.9L910.6 442.5L912.5 443.1L914.4 443.7L916.3 444.3L918.2 445.0L920.1 445.6L922.0 446.3L923.9 447.0L925.7 447.7L927.6 448.4L929.5 449.1L931.3 449.9L933.2 450.7L935.0 451.4L936.8 452.2L938.7 453.0L940.5 453.9L942.3 454.7L944.1 455.5L945.9 456.4L947.7 457.3L949.5 458.1L951.3 459.0L953.1 459.9L954.9 460.8L956.7 461.8L958.4 462.7L960.2 463.6L962.0 464.6L963.7 465.6L965.5 466.5L967.2 467.5L969.0 468.5L970.7 469.5L972.4 470.5L974.2 471.5L975.9 472.5L977.6 473.5L979.3 474.5L981.1 475.5L982.8 476.5L984.5 477.6L986.2 478.6L987.9 479.6L989.7 480.6L991.4 481.7L993.1 482.7L994.9 483.6L996.6 484.6L998.4 485.6L1000.2 486.5L1001.9 487.4L1003.7 488.2L1005.6 489.1L1007.4 489.9L1009.2 490.6L1011.1 491.4L1013.0 492.1L1014.9 492.7L1016.8 493.4L1018.7 494.0L1020.6 494.6L1022.5 495.2L1024.4 495.8L1026.3 496.4L1028.2 497.0L1030.1 497.6L1032.0 498.2L1033.9 498.8L1035.8 499.4L1037.7 500.0L1039.6 500.6L1041.6 501.2L1043.5 501.9L1045.4 502.5L1047.3 503.1L1049.2 503.7L1051.1 504.3L1053.0 504.9L1054.9 505.5L1056.8 506.1L1058.7 506.6L1060.7 507.2L1062.6 507.8L1064.5 508.3L1066.4 508.8L1068.4 509.3L1070.3 509.7L1072.3 510.1L1074.3 510.5L1076.2 510.8L1078.2 511.1L1080.2 511.4L1082.2 511.7L1084.2 511.9L1086.1 512.2L1088.1 512.4L1090.1 512.6L1092.1 512.9L1094.1 513.1L1096.1 513.3L1098.1 513.6L1100.1 513.8L1102.0 514.0L1104.0 514.2L1106.0 514.5L1108.0 514.7L1110.0 514.9L1112.0 515.1L1114.0 515.3L1116.0 515.5L1118.0 515.8L1119.9 516.0L1121.9 516.2L1123.9 516.4L1125.9 516.6L1127.9 516.8L1129.9 517.1L1131.9 517.3L1133.9 517.5L1135.9 517.7L1137.8 517.9L1139.8 518.2L1141.8 518.4L1143.8 518.6L1145.8 518.9L1147.8 519.1L1149.8 519.3L1151.8 519.5L1153.7 519.8L1155.7 520.0L1157.7 520.2L1159.7 520.5L1161.7 520.7L1163.7 521.0L1165.7 521.2L1167.6 521.4L1169.6 521.7L1171.6 521.9L1173.6 522.2L1175.6 522.4L1177.6 522.6L1179.6 522.9L1181.6 523.1L1183.5 523.4L1185.5 523.6L1187.5 523.8L1189.5 524.1L1191.5 524.3L1193.5 524.6L1195.5 524.8L1197.4 525.0L1199.4 525.3L1201.4 525.5L1203.4 525.7L1205.4 526.0L1207.4 526.2L1209.4 526.4L1211.4 526.7L1213.3 526.9L1215.3 527.1L1217.3 527.3L1219.3 527.6L1221.3 527.8L1223.3 528.0L1225.3 528.2L1227.3 528.5L1229.3 528.7L1231.2 528.9L1233.2 529.1L1235.2 529.3L1237.2 529.5L1239.2 529.7L1241.2 529.9L1243.2 530.1L1245.2 530.3L1247.2 530.5L1249.2 530.7L1251.1 530.9L1253.1 531.1L1255.1 531.3L1257.1 531.5L1259.1 531.6L1261.1 531.8L1263.1 532.0L1265.1 532.2L1267.1 532.4L1269.1 532.5L1271.1 532.7L1273.1 532.9L1275.1 533.0L1277.1 533.2L1279.0 533.4L1281.0 533.5L1283.0 533.7L1285.0 533.9L1287.0 534.0L1289.0 534.2L1291.0 534.3L1293.0 534.5L1295.0 534.7L1297.0 534.8L1299.0 535.0L1301.0 535.1L1303.0 535.3L1305.0 535.4L1307.0 535.6L1309.0 535.8L1311.0 535.9L1313.0 536.1L1314.9 536.2L1316.9 536.4L1318.9 536.5L1320.9 536.7L1322.9 536.8L1324.9 537.0L1326.9 537.1L1328.9 537.2L1330.9 537.4L1332.9 537.5L1334.9 537.7L1336.9 537.8L1338.9 537.9L1340.9 538.1L1342.9 538.2L1344.9 538.3L1346.9 538.4L1348.9 538.5L1350.9 538.6L1352.9 538.8L1354.9 538.9L1356.9 539.0L1358.9 539.1L1360.9 539.2L1362.9 539.2L1364.9 539.3L1366.9 539.4L1368.9 539.5L1370.9 539.6L1372.9 539.7L1374.9 539.7L1376.9 539.8L1378.9 539.9L1380.9 539.9L1382.9 540.0L1384.9 540.1L1386.9 540.1L1388.9 540.2L1390.9 540.2L1392.9 540.3L1394.9 540.3L1396.9 540.4L1398.9 540.4L1400.9 540.5L1402.9 540.5L1404.9 540.6L1406.9 540.6L1408.9 540.6L1410.9 540.7L1412.9 540.7L1414.9 540.7L1416.9 540.8L1418.9 540.8L1420.9 540.8L1422.9 540.9L1424.9 540.9L1426.9 540.9L1428.9 540.9L1430.9 541.0L1432.9 541.0L1434.9 541.0L1436.9 541.0L1438.9 541.0L1440.9 541.1L1442.9 541.1L1444.9 541.1L1446.9 541.1L1448.9 541.1L1450.9 541.1L1452.9 541.2L1454.9 541.2L1456.9 541.2L1458.9 541.2L1460.9 541.2L1462.9 541.2L1464.9 541.3L1466.9 541.3L1468.9 541.3L1470.9 541.3L1472.9 541.3L1474.9 541.3L1476.9 541.4L1478.9 541.4L1480.9 541.4L1482.9 541.4L1484.9 541.4L1486.9 541.4L1488.9 541.5L1490.9 541.5L1492.9 541.5L1494.9 541.5L1496.9 541.5L1498.9 541.6L1500.9 541.6L1502.9 541.6L1504.9 541.6L1506.9 541.6L1508.9 541.7L1510.9 541.7L1512.9 541.7L1514.9 541.7L1516.9 541.7L1518.9 541.8L1520.9 541.8L1522.9 541.8L1524.9 541.8L1526.9 541.8L1528.9 541.9L1530.9 541.9L1532.9 541.9L1534.9 541.9L1536.9 541.9L1538.9 542.0L1540.9 542.0L1542.9 542.0L1544.9 542.0L1546.9 542.0L1548.9 542.1L1550.9 542.1L1552.9 542.1L1554.9 542.1L1556.9 542.1L1558.9 542.2L1560.9 542.2L1562.9 542.2L1564.9 542.2L1566.9 542.2L1568.9 542.3L1570.9 542.3L1572.9 542.3L1574.9 542.3L1576.9 542.3L1578.9 542.4L1580.9 542.4L1582.9 542.4L1584.9 542.4L1586.9 542.4L1588.9 542.4L1590.9 542.5L1592.9 542.5L1594.9 542.5L1596.9 542.5L1598.9 542.5L1600.9 542.6L1602.9 542.6L1604.9 542.6L1606.9 542.6L1608.9 542.6L1610.9 542.7L1612.9 542.7L1614.9 542.7L1616.9 542.7L1618.9 542.7L1620.9 542.7L1622.9 542.8L1624.9 542.8L1626.9 542.8L1628.9 542.8L1630.9 542.8L1632.9 542.8L1634.9 542.9L1636.9 542.9L1638.9 542.9L1640.9 542.9L1642.9 542.9L1644.9 543.0L1646.9 543.0L1649.0 543.0L1651.0 543.0L1653.0 543.0L1655.0 543.0L1657.0 543.1L1659.0 543.1L1661.0 543.1L1663.0 543.1L1665.0 543.1L1667.0 543.1L1669.0 543.2L1671.0 543.2L1673.0 543.2L1675.0 543.2L1677.0 543.2L1679.0 543.3L1681.0 543.3L1683.0 543.3L1685.0 543.3L1687.0 543.3L1689.0 543.3L1691.0 543.4L1693.0 543.4L1695.0 543.4L1697.0 543.4L1699.0 543.4L1701.0 543.5L1703.0 543.5L1705.0 543.5L1707.0 543.5L1709.0 543.5L1711.0 543.6L1713.0 543.6L1715.0 543.6L1717.0 543.6L1719.0 543.6L1721.0 543.6L1723.0 543.7L1725.0 543.7L1727.0 543.7L1729.0 543.7L1731.0 543.7L1733.0 543.8L1735.0 543.8L1737.0 543.8L1739.0 543.8L1741.0 543.8L1743.0 543.9L1745.0 543.9L1747.0 543.9L1749.0 543.9L1751.0 544.0L1753.0 544.0L1755.0 544.0L1757.0 544.0L1759.0 544.0L1761.0 544.1L1763.0 544.1L1765.0 544.1L1767.0 544.1L1769.0 544.1L1771.0 544.2L1773.0 544.2L1775.0 544.2L1777.0 544.2L1779.0 544.3L1781.0 544.3L1783.0 544.3L1785.0 544.3L1787.0 544.4L1789.0 544.4L1791.0 544.4" stroke="#2f5597" stroke-dasharray="32.7 46.6 35.6 45.4 35.6 46.4 35.6 45.4 35.6 47.4 35.6 47.4 35.6 46.4 35.6 46.4 35.6 47.4 35.6 44.4 35.6 45.4 35.6 46.4 35.6 45.4 35.6 46.4 35.6 46.4 35.6 46.4 35.6 48.4 35.6 49.4 35.6 46.4 35.6 48.4 35.6 48.6 5.7 1000.0"/>
</g>
<g stroke="#000" stroke-width="5.2" stroke-linecap="butt">
<line x1="947.9" y1="286.1" x2="993.5" y2="249.3"/>
<line x1="1004.5" y1="405.5" x2="1049.6" y2="369.5"/>
<line x1="1732.8" y1="531.6" x2="1778.4" y2="495.6"/>
<line x1="1744.6" y1="898.1" x2="1790.6" y2="861.6"/>
</g>
<g font-size="67">
<text x="998.5" y="242.8">a</text>
<text x="1060.5" y="374.7">b</text>
<text x="1795.6" y="494.7">c</text>
<text x="1792.6" y="857.5">d</text>
</g>
<g font-size="66"><text x="205.6" y="1027.6" text-anchor="end">0</text><text x="205.6" y="837.6" text-anchor="end">20</text><text x="205.6" y="647.5" text-anchor="end">40</text><text x="205.6" y="457.5" text-anchor="end">60</text><text x="205.6" y="267.4" text-anchor="end">80</text><text x="205.6" y="77.3" text-anchor="end">100</text><text x="266.9" y="1108.3" text-anchor="middle">0</text><text x="632.0" y="1108.3" text-anchor="middle">200</text><text x="997.0" y="1108.3" text-anchor="middle">400</text><text x="1362.0" y="1108.3" text-anchor="middle">600</text><text x="1727.0" y="1108.3" text-anchor="middle">800</text><text x="2091.9" y="1108.3" text-anchor="middle">1000</text></g>
<text font-size="74.8" style="font-kerning:normal" transform="translate(1178.5 1196) scale(1 1.02)" text-anchor="middle">Temperature, °C</text>
<text font-size="74" transform="translate(70 508.6) rotate(-90) scale(1 1.025)" text-anchor="middle">Weight loss, %</text>
</svg>
</body></html>
